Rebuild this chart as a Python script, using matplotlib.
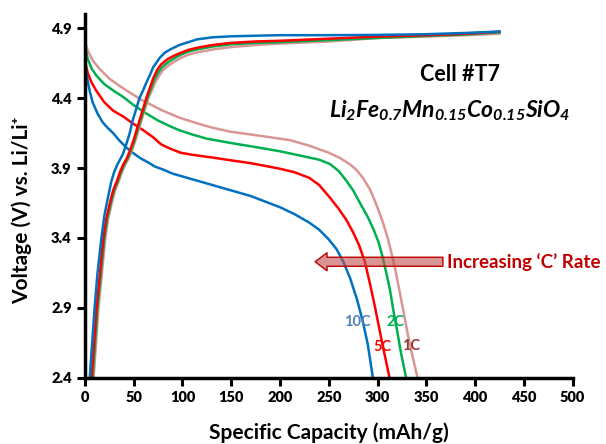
import matplotlib
matplotlib.use("Agg")
import matplotlib.pyplot as plt

plt.rcParams['font.family'] = ['Lato', 'DejaVu Sans']
plt.rcParams['mathtext.fontset'] = 'custom'
plt.rcParams['mathtext.rm'] = 'Lato:italic:bold'
plt.rcParams['mathtext.it'] = 'Lato:italic:bold'

# discharge curves (capacity mAh/g, voltage V)
dis_10c_x = [0, 0.3, 2, 5, 8, 13, 18, 23, 29, 35, 42, 49, 57, 65, 72, 80, 90, 100, 110, 125,
             140, 155, 170, 185, 200, 215, 230, 240, 250, 258, 265, 272, 279, 285, 290, 295]
dis_10c_y = [4.85, 4.62, 4.56, 4.45, 4.37, 4.29, 4.23, 4.19, 4.15, 4.10, 4.05, 4.01, 3.97, 3.94,
             3.91, 3.89, 3.86, 3.84, 3.82, 3.79, 3.76, 3.73, 3.70, 3.66, 3.62, 3.57, 3.51, 3.46,
             3.39, 3.32, 3.23, 3.11, 2.96, 2.80, 2.64, 2.41]

dis_5c_x = [0, 0.3, 3, 7, 12, 20, 29, 39, 49, 60, 70, 78, 87, 98, 110, 131, 150, 170, 185, 200,
            215, 230, 240, 251, 260, 268, 275, 281, 287, 292, 297, 301, 305, 309, 312]
dis_5c_y = [4.85, 4.66, 4.58, 4.51, 4.45, 4.37, 4.31, 4.27, 4.22, 4.17, 4.12, 4.07, 4.04, 4.01,
            3.995, 3.975, 3.955, 3.935, 3.915, 3.895, 3.87, 3.83, 3.78, 3.69, 3.61, 3.53, 3.44,
            3.35, 3.23, 3.08, 2.92, 2.78, 2.64, 2.51, 2.41]

dis_2c_x = [0, 0.3, 3, 7, 12, 20, 30, 39, 50, 63, 75, 87, 97, 110, 125, 149, 175, 200, 220, 240,
            251, 260, 268, 275, 282, 290, 296, 301, 305, 309, 313, 316, 320, 324, 329]
dis_2c_y = [4.88, 4.76, 4.68, 4.61, 4.56, 4.50, 4.45, 4.41, 4.35, 4.29, 4.24, 4.20, 4.17, 4.14,
            4.11, 4.08, 4.05, 4.02, 3.99, 3.96, 3.93, 3.88, 3.81, 3.74, 3.65, 3.55, 3.46, 3.37,
            3.27, 3.15, 3.02, 2.89, 2.74, 2.58, 2.41]

dis_1c_x = [0, 0.3, 3, 8, 15, 25, 35, 46, 60, 80, 97, 115, 130, 149, 170, 190, 210, 230, 250,
            262, 271, 278, 285, 292, 297, 302, 306, 310, 314, 318, 322, 327, 331, 336, 341]
dis_1c_y = [4.88, 4.80, 4.74, 4.67, 4.61, 4.54, 4.49, 4.44, 4.38, 4.31, 4.26, 4.22, 4.19, 4.16,
            4.14, 4.12, 4.10, 4.06, 4.01, 3.97, 3.93, 3.89, 3.83, 3.75, 3.67, 3.58, 3.50, 3.41,
            3.30, 3.18, 3.04, 2.86, 2.71, 2.55, 2.40]

# charge curves
chg_10c_x = [5, 7, 10, 13, 17, 20, 24, 27, 30, 33, 36, 39, 42, 46, 49, 53, 56, 60, 63, 67, 70,
             74, 77, 82, 88, 97, 106, 115, 131, 150, 180, 200, 250, 300, 350, 390, 425]
chg_10c_y = [2.40, 2.60, 2.90, 3.15, 3.40, 3.56, 3.70, 3.80, 3.87, 3.92, 3.96, 4.00, 4.06, 4.15,
             4.24, 4.33, 4.40, 4.46, 4.51, 4.57, 4.62, 4.66, 4.69, 4.725, 4.75, 4.78, 4.80, 4.82,
             4.835, 4.842, 4.847, 4.85, 4.85, 4.852, 4.857, 4.866, 4.876]

chg_5c_x = [7, 9.5, 12, 15.5, 19, 22, 26, 29, 33, 36, 39, 43, 46, 50, 53, 56, 60, 63, 67, 70,
            74, 78, 85, 92, 97, 106, 115, 131, 150, 175, 200, 250, 300, 350, 390, 425]
chg_5c_y = [2.40, 2.65, 2.90, 3.15, 3.40, 3.54, 3.66, 3.74, 3.81, 3.87, 3.92, 3.97, 4.02, 4.10,
            4.17, 4.24, 4.33, 4.40, 4.48, 4.54, 4.60, 4.64, 4.68, 4.705, 4.72, 4.745, 4.76, 4.78,
            4.795, 4.805, 4.81, 4.825, 4.84, 4.85, 4.86, 4.875]

chg_2c_x = [8, 10.5, 13, 16.5, 20, 23, 27, 30, 34, 37, 40, 44, 47, 51, 54, 57, 61, 64, 68, 71,
            75, 79, 86, 93, 98, 107, 116, 132, 150, 175, 200, 250, 300, 350, 390, 425]
chg_2c_y = [2.40, 2.65, 2.90, 3.15, 3.40, 3.54, 3.66, 3.74, 3.81, 3.87, 3.92, 3.97, 4.02, 4.10,
            4.17, 4.24, 4.33, 4.40, 4.47, 4.53, 4.58, 4.62, 4.66, 4.69, 4.71, 4.735, 4.75, 4.77,
            4.785, 4.795, 4.80, 4.815, 4.83, 4.845, 4.855, 4.87]

chg_1c_x = [9, 11.5, 14, 17.5, 21, 24, 28, 31, 35, 38, 41, 45, 48, 52, 55, 58, 62, 65, 69, 72,
            76, 80, 87, 94, 99, 108, 117, 133, 150, 175, 200, 250, 300, 350, 390, 425]
chg_1c_y = [2.40, 2.65, 2.90, 3.15, 3.40, 3.54, 3.66, 3.74, 3.81, 3.87, 3.92, 3.97, 4.02, 4.10,
            4.17, 4.24, 4.33, 4.40, 4.46, 4.51, 4.56, 4.60, 4.64, 4.67, 4.69, 4.715, 4.73, 4.75,
            4.765, 4.78, 4.79, 4.805, 4.83, 4.84, 4.85, 4.86]

x_ticks = [0, 50, 100, 150, 200, 250, 300, 350, 400, 450, 500]
y_ticks = [2.4, 2.9, 3.4, 3.9, 4.4, 4.9]

BLUE = '#0070C0'
RED = '#FF0000'
GREEN = '#00B050'
PINK = '#D99694'

fig = plt.figure(figsize=(6.06, 4.44), dpi=100)
ax = fig.add_axes([0.140, 0.149, 0.805, 0.819])

lw = 1.8
ax.plot(dis_1c_x, dis_1c_y, color=PINK, lw=lw)
ax.plot(dis_2c_x, dis_2c_y, color=GREEN, lw=lw)
ax.plot(dis_5c_x, dis_5c_y, color=RED, lw=lw)
ax.plot(dis_10c_x, dis_10c_y, color=BLUE, lw=lw)
ax.plot(chg_1c_x, chg_1c_y, color=PINK, lw=lw)
ax.plot(chg_2c_x, chg_2c_y, color=GREEN, lw=lw)
ax.plot(chg_5c_x, chg_5c_y, color=RED, lw=lw)
ax.plot(chg_10c_x, chg_10c_y, color=BLUE, lw=lw)

ax.set_xlim(0, 500)
ax.set_ylim(2.4, 5.0)
ax.set_xticks(x_ticks)
ax.set_yticks(y_ticks)
ax.set_yticklabels([f'{v:.1f}' for v in y_ticks])

for s in ['top', 'right']:
    ax.spines[s].set_visible(False)
for s in ['left', 'bottom']:
    ax.spines[s].set_linewidth(2.5)
ax.tick_params(width=2.2, length=6, labelsize=10.5)
for lab in ax.get_xticklabels() + ax.get_yticklabels():
    lab.set_fontweight('heavy')

ax.set_xlabel('Specific Capacity (mAh/g)', fontsize=15, fontweight='bold')
ax.xaxis.set_label_coords(0.5, -0.122)
ax.set_ylabel('Voltage (V) vs. Li/Li\u207a', fontsize=15, fontweight='bold')
ax.yaxis.set_label_coords(-0.108, 0.46)

ax.text(385, 4.57, 'Cell #T7', fontsize=15.5, fontweight='bold', ha='center', va='center')
ax.text(374, 4.31, r'$Li_{2}Fe_{0.7}Mn_{0.15}Co_{0.15}SiO_{4}$', fontsize=16.5,
        ha='center', va='center')

# rate arrow
ax.annotate('', xy=(236, 3.23), xytext=(367, 3.23),
            arrowprops=dict(arrowstyle='simple,head_width=1.3,head_length=0.86,tail_width=0.65',
                            mutation_scale=10, fc=(0.75, 0.31, 0.30, 0.6), ec='#C00000',
                            lw=1, shrinkA=0, shrinkB=0))
ax.text(371, 3.23, 'Increasing \u2018C\u2019 Rate', fontsize=13.5, fontweight='bold',
        color='#C00000', ha='left', va='center')

ax.text(279, 2.80, '10C', color='#4F81BD', fontsize=10.5, fontweight='bold', ha='center', va='center')
ax.text(318, 2.80, '2C', color=GREEN, fontsize=10.5, fontweight='bold', ha='center', va='center')
ax.text(305, 2.62, '5C', color=RED, fontsize=10.5, fontweight='bold', ha='center', va='center')
ax.text(334, 2.63, '1C', color='#953735', fontsize=10.5, fontweight='bold', ha='center', va='center')

fig.savefig('out.png', dpi=100)
